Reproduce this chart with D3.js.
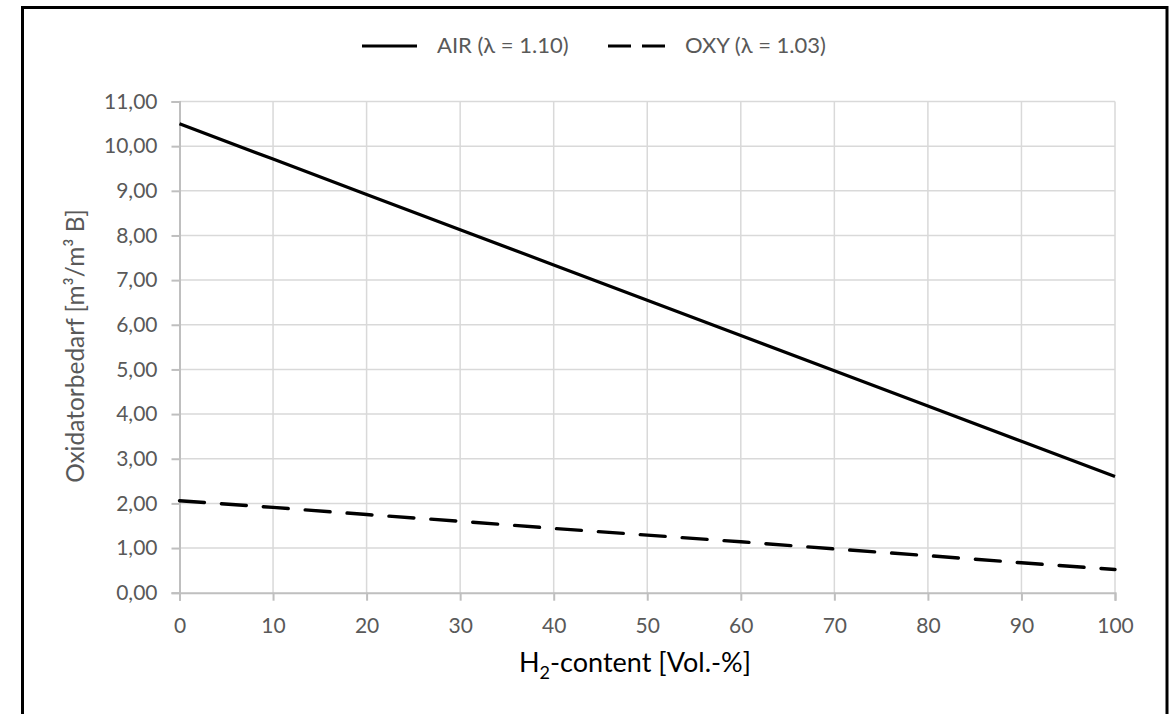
<!DOCTYPE html>
<html>
<head>
<meta charset="utf-8">
<script src="https://cdn.jsdelivr.net/npm/d3@7"></script>
<style>
  body { margin: 0; background: #fff; }
  svg { display: block; font-family: Lato, "Open Sans", sans-serif; }
</style>
</head>
<body>
<svg id="chart"></svg>
<script>
// data
const h2Content = [0, 10, 20, 30, 40, 50, 60, 70, 80, 90, 100];
const airValues = [10.50, 9.71, 8.92, 8.13, 7.34, 6.55, 5.76, 4.97, 4.18, 3.39, 2.60];
const oxyValues = [2.06, 1.91, 1.75, 1.60, 1.44, 1.29, 1.14, 0.98, 0.83, 0.67, 0.52];
const seriesNames = ["AIR (\u03BB = 1.10)", "OXY (\u03BB = 1.03)"];
const yTicks = [0, 1, 2, 3, 4, 5, 6, 7, 8, 9, 10, 11];
const xTicks = [0, 10, 20, 30, 40, 50, 60, 70, 80, 90, 100];

const svgWidth = 1175,
    svgHeight = 714,
    margin = {top: 101.5, right: 60, bottom: 121.3, left: 179.5},
    width = 1115 - margin.left,
    height = svgHeight - margin.top - margin.bottom;

const chart = d3.select('#chart')
    .attr("width", svgWidth)
    .attr("height", svgHeight);

// outer frame (bottom edge runs off the picture)
chart.append("rect")
    .attr("x", 22.5).attr("y", 7.5)
    .attr("width", 1167 - 22.5).attr("height", 720)
    .attr("fill", "none")
    .attr("stroke", "#000")
    .attr("stroke-width", 3);

const inner = chart.append("g")
    .attr("transform", `translate(${margin.left},${margin.top})`);

var xScale = d3.scaleLinear().domain([0, 100]).range([0, width]);
var yScale = d3.scaleLinear().domain([0, 11]).range([height, 0]);

const fmt = d => d3.format(".2f")(d).replace(".", ",");

// grid
inner.append("g")
    .selectAll("line.hgrid")
    .data(yTicks.filter(d => d > 0))
    .enter().append("line")
    .attr("x1", 0).attr("x2", width)
    .attr("y1", d => yScale(d)).attr("y2", d => yScale(d))
    .attr("stroke", "#d9d9d9").attr("stroke-width", 1.5);

inner.append("g")
    .selectAll("line.vgrid")
    .data(xTicks.filter(d => d > 0))
    .enter().append("line")
    .attr("x1", d => xScale(d)).attr("x2", d => xScale(d))
    .attr("y1", 0).attr("y2", height)
    .attr("stroke", "#d9d9d9").attr("stroke-width", 1.5);

// axes
var xAxis = d3.axisBottom(xScale).tickValues(xTicks).tickSize(8).tickPadding(14);
var yAxis = d3.axisLeft(yScale).tickValues(yTicks).tickFormat(fmt).tickSize(8).tickPadding(14);

const gx = inner.append("g")
    .attr("transform", "translate(0," + height + ")")
    .call(xAxis);
const gy = inner.append("g").call(yAxis);

[gx, gy].forEach(g => {
    g.select(".domain").attr("stroke", "#bfbfbf").attr("stroke-width", 2);
    g.selectAll(".tick line").attr("stroke", "#bfbfbf").attr("stroke-width", 2);
    g.selectAll(".tick text")
        .attr("fill", "#595959")
        .style("font-family", "Lato, sans-serif")
        .style("font-size", "21px");
});
gx.selectAll(".tick text").attr("dy", "0.85em");

// lines
var valueline = d3.line()
    .x((d, i) => xScale(h2Content[i]))
    .y(d => yScale(d))
    .curve(d3.curveLinear);

inner.append("path")
    .datum(airValues)
    .attr("d", valueline)
    .attr("fill", "none")
    .attr("stroke", "#000")
    .attr("stroke-width", 3.2);

inner.append("path")
    .datum(oxyValues)
    .attr("d", valueline)
    .attr("fill", "none")
    .attr("stroke", "#000")
    .attr("stroke-width", 3.4)
    .attr("stroke-linecap", "round")
    .attr("stroke-dasharray", "25,17");

// legend
const legend = chart.append("g");
legend.append("line")
    .attr("x1", 362).attr("x2", 417).attr("y1", 46).attr("y2", 46)
    .attr("stroke", "#000").attr("stroke-width", 3.2);
legend.append("text")
    .attr("x", 437).attr("y", 53)
    .attr("fill", "#595959").style("font-size", "22px")
    .text(seriesNames[0]);
legend.append("line")
    .attr("x1", 608).attr("x2", 665).attr("y1", 46).attr("y2", 46)
    .attr("stroke", "#000").attr("stroke-width", 3.2)
    .attr("stroke-dasharray", "23,11");
legend.append("text")
    .attr("x", 685).attr("y", 53)
    .attr("fill", "#595959").style("font-size", "22px")
    .text(seriesNames[1]);

// y title
const yTitle = chart.append("text")
    .attr("transform", "translate(84,346) rotate(-90)")
    .style("text-anchor", "middle")
    .attr("fill", "#595959")
    .style("font-size", "24.5px");
yTitle.append("tspan").text("Oxidatorbedarf [m\u00B3/m\u00B3 B]");

// x title
const xTitle = chart.append("text")
    .attr("x", 635).attr("y", 672)
    .style("text-anchor", "middle")
    .attr("fill", "#000")
    .style("font-size", "27px");
xTitle.append("tspan").text("H");
xTitle.append("tspan").attr("dy", 7).style("font-size", "18px").text("2");
xTitle.append("tspan").attr("dy", -7).text("-content [Vol.-%]");
</script>
</body>
</html>
